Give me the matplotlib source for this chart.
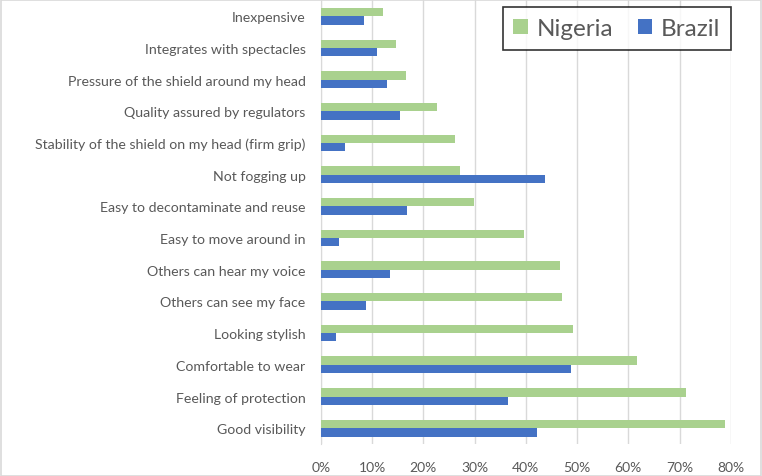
import matplotlib.pyplot as plt
import numpy as np
from matplotlib.patches import Rectangle
from matplotlib.ticker import PercentFormatter

# categories listed top to bottom as in the chart
categories = ['Inexpensive', 'Integrates with spectacles', 'Pressure of the shield around my head',
              'Quality assured by regulators', 'Stability of the shield on my head (firm grip)',
              'Not fogging up', 'Easy to decontaminate and reuse', 'Easy to move around in',
              'Others can hear my voice', 'Others can see my face', 'Looking stylish',
              'Comfortable to wear', 'Feeling of protection', 'Good visibility']
nigeria = [12.1, 14.6, 16.7, 22.6, 26.2, 27.1, 29.9, 39.7, 46.7, 47.0, 49.2, 61.7, 71.3, 78.9]
brazil = [8.5, 10.9, 12.9, 15.5, 4.8, 43.8, 16.8, 3.6, 13.6, 8.9, 2.9, 48.8, 36.5, 42.1]
xticks = [0, 10, 20, 30, 40, 50, 60, 70, 80]

plt.rcParams['font.family'] = ['Lato', 'DejaVu Sans']
text_col = '#595959'
grid_col = '#D9D9D9'

fig = plt.figure(figsize=(7.62, 4.77), dpi=100)
ax = fig.add_axes([0.4209, 0.067, 0.5383, 0.930])

y = np.arange(len(categories))[::-1]
h = 0.263
ax.barh(y + h / 2, nigeria, height=h, color='#A9D18E', label='Nigeria', zorder=3)
ax.barh(y - h / 2, brazil, height=h, color='#4472C4', label='Brazil', zorder=3)

ax.set_xlim(0, 80)
ax.set_ylim(-0.5, len(categories) - 0.5)
ax.set_yticks(y)
ax.set_yticklabels(categories, fontsize=10.2, color=text_col)
ax.set_xticks(xticks)
ax.xaxis.set_major_formatter(PercentFormatter(decimals=0))
ax.tick_params(axis='x', labelsize=10, labelcolor=text_col, length=0, pad=12)
ax.tick_params(axis='y', length=0, pad=11)
ax.grid(axis='x', color=grid_col, linewidth=1, zorder=0)
for s in ['top', 'right', 'bottom']:
    ax.spines[s].set_visible(False)
ax.spines['left'].set_color(grid_col)

leg = ax.legend(loc='upper right', ncol=2, fontsize=17.5, frameon=True, fancybox=False,
                bbox_to_anchor=(1.0, 0.985), borderaxespad=0, handlelength=0.6, handleheight=0.6,
                columnspacing=1.0, handletextpad=0.35, borderpad=0.45)
leg.get_frame().set_edgecolor('black')
leg.get_frame().set_linewidth(1.2)
for t in leg.get_texts():
    t.set_color(text_col)

fig.patches.append(Rectangle((0.001, 0.001), 0.998, 0.997, transform=fig.transFigure,
                             fill=False, edgecolor=grid_col, linewidth=1.2))

fig.savefig('out.png', dpi=100)
